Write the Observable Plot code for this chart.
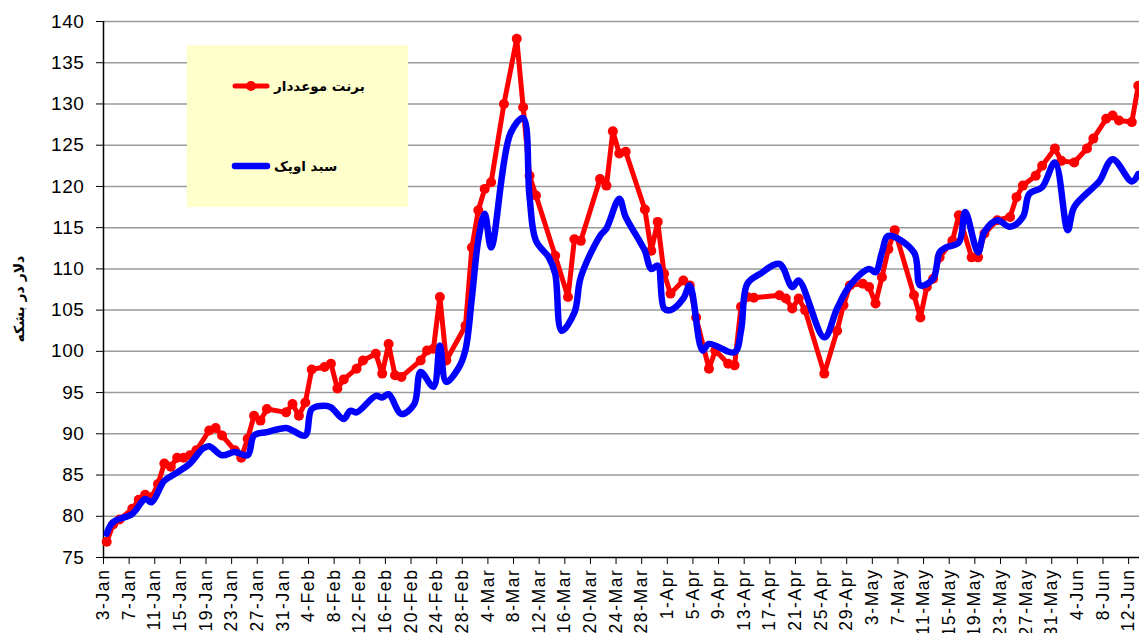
<!DOCTYPE html>
<html>
<head>
<meta charset="utf-8">
<script src="https://cdn.jsdelivr.net/npm/d3@7"></script>
<script src="https://cdn.jsdelivr.net/npm/@observablehq/plot@0.6"></script>
<style>
  body { margin: 0; background: #fff; }
  #wrap { position: relative; width: 1139px; height: 633px; overflow: hidden; }
  #legend { position: absolute; left: 187px; top: 45px; width: 221px; height: 162px; background: #FFFFCC; }
  .row { position: absolute; left: 44px; display: flex; align-items: center; height: 20px; }
  .row span { font-family: "DejaVu Sans", sans-serif; font-weight: bold; font-size: 13.5px; color: #000; margin-left: 3px; direction: rtl; unicode-bidi: isolate; }
</style>
</head>
<body>
<div id="wrap">
  <div id="chart"></div>
  <div id="legend">
    <div class="row" style="top:31px">
      <svg width="40" height="20"><line x1="4" y1="10" x2="36" y2="10" stroke="#FF0000" stroke-width="5" stroke-linecap="round"/><circle cx="20" cy="10" r="5" fill="#FF0000"/></svg>
      <span id="lg1"></span>
    </div>
    <div class="row" style="top:111px">
      <svg width="40" height="20"><line x1="4" y1="10" x2="36" y2="10" stroke="#0000FF" stroke-width="6.5" stroke-linecap="round"/></svg>
      <span id="lg2"></span>
    </div>
  </div>
</div>
<script>
// ---- Data ----
const seriesNames = ["برنت موعددار", "سبد اوپک"];
const yTitle = "دلار در بشکه";
const yTicks = [75, 80, 85, 90, 95, 100, 105, 110, 115, 120, 125, 130, 135, 140];

const brentDates = [
  "2022-01-03","2022-01-04","2022-01-05","2022-01-07","2022-01-08","2022-01-09","2022-01-10","2022-01-11","2022-01-12","2022-01-13",
  "2022-01-14","2022-01-15","2022-01-16","2022-01-17","2022-01-19","2022-01-20","2022-01-21","2022-01-23","2022-01-24","2022-01-25",
  "2022-01-26","2022-01-27","2022-01-28","2022-01-31","2022-02-01","2022-02-02","2022-02-03","2022-02-04","2022-02-06","2022-02-07",
  "2022-02-08","2022-02-09","2022-02-11","2022-02-12","2022-02-14","2022-02-15","2022-02-16","2022-02-17","2022-02-18","2022-02-21",
  "2022-02-22","2022-02-23","2022-02-24","2022-02-25","2022-02-28","2022-03-01","2022-03-02","2022-03-03","2022-03-04","2022-03-06",
  "2022-03-08","2022-03-09","2022-03-10","2022-03-11","2022-03-14","2022-03-16","2022-03-17","2022-03-18","2022-03-21","2022-03-22",
  "2022-03-23","2022-03-24","2022-03-25","2022-03-28","2022-03-29","2022-03-30","2022-03-31","2022-04-01","2022-04-03","2022-04-04",
  "2022-04-05","2022-04-07","2022-04-08","2022-04-10","2022-04-11","2022-04-12","2022-04-13","2022-04-14","2022-04-18","2022-04-19",
  "2022-04-20","2022-04-21","2022-04-22","2022-04-25","2022-04-27","2022-04-28","2022-04-29","2022-05-01","2022-05-02","2022-05-03",
  "2022-05-04","2022-05-05","2022-05-06","2022-05-09","2022-05-10","2022-05-11","2022-05-12","2022-05-13","2022-05-15","2022-05-16",
  "2022-05-18","2022-05-19","2022-05-20","2022-05-22","2022-05-24","2022-05-25","2022-05-26","2022-05-28","2022-05-29","2022-05-31",
  "2022-06-01","2022-06-03","2022-06-05","2022-06-06","2022-06-08","2022-06-09","2022-06-10","2022-06-12","2022-06-13"
];
const brentValues = [
  76.9, 79.0, 79.6, 80.9, 82.0, 82.6, 82.3, 83.9, 86.4, 86.0,
  87.1, 87.1, 87.4, 88.0, 90.4, 90.7, 89.8, 88.0, 87.1, 89.4,
  92.2, 91.6, 93.0, 92.6, 93.6, 92.2, 93.8, 97.8, 98.1, 98.5,
  95.5, 96.6, 97.9, 98.9, 99.7, 97.3, 100.9, 97.1, 96.9, 98.9,
  100.1, 100.3, 106.6, 98.9, 103.1, 112.6, 117.1, 119.7, 120.5, 130.0,
  137.9, 129.6, 121.3, 118.9, 111.6, 106.6, 113.6, 113.4, 120.9, 120.1,
  126.7, 124.0, 124.2, 117.2, 112.2, 115.7, 109.4, 107.0, 108.6, 108.0,
  104.1, 97.9, 100.1, 98.5, 98.3, 105.4, 106.6, 106.5, 106.8, 106.4,
  105.2, 106.4, 105.0, 97.3, 102.5, 105.6, 108.0, 108.2, 107.8, 105.8,
  109.0, 112.4, 114.7, 106.8, 104.1, 107.8, 108.8, 111.4, 113.4, 116.5,
  111.4, 111.4, 114.3, 115.9, 116.3, 118.7, 120.1, 121.3, 122.5, 124.6,
  123.1, 122.9, 124.6, 125.8, 128.2, 128.6, 128.0, 127.8, 132.2
];

const opecDates = [
  "2022-01-03","2022-01-04","2022-01-07","2022-01-09","2022-01-10","2022-01-12","2022-01-14","2022-01-16","2022-01-18","2022-01-19",
  "2022-01-21","2022-01-23","2022-01-25","2022-01-26","2022-01-28","2022-01-31","2022-02-01","2022-02-03","2022-02-04","2022-02-06",
  "2022-02-07","2022-02-09","2022-02-10","2022-02-11","2022-02-14","2022-02-15","2022-02-16","2022-02-18","2022-02-20","2022-02-21",
  "2022-02-23","2022-02-24","2022-02-25","2022-02-27","2022-02-28","2022-03-01","2022-03-02","2022-03-03","2022-03-04","2022-03-07",
  "2022-03-09","2022-03-10","2022-03-11","2022-03-13","2022-03-14","2022-03-15","2022-03-17","2022-03-18","2022-03-21","2022-03-22",
  "2022-03-24","2022-03-25","2022-03-27","2022-03-28","2022-03-29","2022-03-30","2022-03-31","2022-04-01","2022-04-03","2022-04-04",
  "2022-04-06","2022-04-07","2022-04-11","2022-04-12","2022-04-13","2022-04-15","2022-04-18","2022-04-20","2022-04-21","2022-04-25",
  "2022-04-27","2022-04-29","2022-05-02","2022-05-03","2022-05-04","2022-05-05","2022-05-09","2022-05-10","2022-05-12","2022-05-13",
  "2022-05-14","2022-05-16","2022-05-17","2022-05-19","2022-05-20","2022-05-22","2022-05-24","2022-05-26","2022-05-27","2022-05-29",
  "2022-05-31","2022-06-02","2022-06-03","2022-06-06","2022-06-07","2022-06-09","2022-06-12","2022-06-13"
];
const opecValues = [
  77.9, 79.3, 80.3, 82.1, 81.7, 84.3, 85.3, 86.4, 88.2, 88.5,
  87.4, 87.8, 87.4, 89.8, 90.2, 90.7, 90.4, 89.8, 93.0, 93.4,
  93.2, 91.8, 92.8, 92.6, 94.6, 94.4, 94.8, 92.4, 93.6, 97.5,
  95.7, 100.7, 96.3, 98.1, 100.2, 106.5, 113.5, 116.7, 112.6, 126.4,
  128.3, 118.7, 113.4, 111.4, 109.4, 102.5, 104.7, 109.0, 114.0, 114.9,
  118.5, 116.3, 113.6, 112.2, 110.0, 110.4, 105.2, 105.0, 106.4, 108.0,
  100.1, 100.9, 99.9, 102.5, 108.2, 109.4, 110.6, 107.8, 108.6, 101.7,
  105.2, 108.0, 110.0, 109.6, 112.0, 114.0, 112.0, 108.0, 108.8, 112.0,
  112.6, 113.2, 116.9, 112.0, 114.5, 115.9, 115.1, 116.3, 119.1, 119.9,
  122.9, 114.7, 117.5, 119.9, 120.7, 123.3, 120.6, 121.5
];

// ---- Build tables ----
const atNoon = s => new Date(s + "T12:00:00Z");
const brent = brentDates.map((d, i) => ({date: atNoon(d), value: brentValues[i]}));
const opec = opecDates.map((d, i) => ({date: atNoon(d), value: opecValues[i]}));

const start = new Date(Date.UTC(2022, 0, 3));
const end = new Date(start.getTime() + 161.7 * 864e5);
const xTicks = d3.range(0, 161, 4).map(k => new Date(Date.UTC(2022, 0, 3 + k)));
const fmt = d3.utcFormat("%-d-%b");

document.getElementById("lg1").textContent = seriesNames[0];
document.getElementById("lg2").textContent = seriesNames[1];

const chart = Plot.plot({
  width: 1139,
  height: 633,
  marginTop: 21,
  marginBottom: 76,
  marginLeft: 103,
  marginRight: 0,
  style: {fontFamily: "'Liberation Sans', Arial, sans-serif", background: "transparent", color: "#000"},
  x: {type: "utc", domain: [start, end]},
  y: {domain: [75, 140]},
  marks: [
    Plot.ruleY(yTicks.filter(t => t > 75), {stroke: "#9a9a9a", strokeWidth: 1.5}),
    Plot.axisY({ticks: yTicks, tickSize: 7, tickPadding: 12, fontSize: 19, label: null, tickFormat: d => d}),
    Plot.axisX({ticks: xTicks, tickFormat: fmt, tickRotate: -90, tickSize: 7, tickPadding: 4, fontSize: 17.5, label: null}),
    Plot.ruleX([start], {stroke: "#000", strokeWidth: 1.5}),
    Plot.ruleY([75], {stroke: "#000", strokeWidth: 1.5}),
    Plot.line(brent, {x: "date", y: "value", stroke: "#FF0000", strokeWidth: 5}),
    Plot.dot(brent, {x: "date", y: "value", r: 5, fill: "#FF0000"}),
    Plot.line(opec, {x: "date", y: "value", stroke: "#0000FF", strokeWidth: 6.5, curve: "catmull-rom"}),
    Plot.text([yTitle], {text: d => d, frameAnchor: "left", dx: -84, dy: 53, rotate: -90, fontWeight: "bold", fontSize: 14, fontFamily: "DejaVu Sans"})
  ]
});
// the original's tick labels are drawn slightly stretched along their length
chart.querySelectorAll('[aria-label="x-axis tick label"] text').forEach(t => t.setAttribute("letter-spacing", "1.6"));
chart.querySelectorAll('[aria-label="y-axis tick label"] text').forEach(t => t.setAttribute("letter-spacing", "0.6"));
document.getElementById("chart").appendChild(chart);
</script>
</body>
</html>
